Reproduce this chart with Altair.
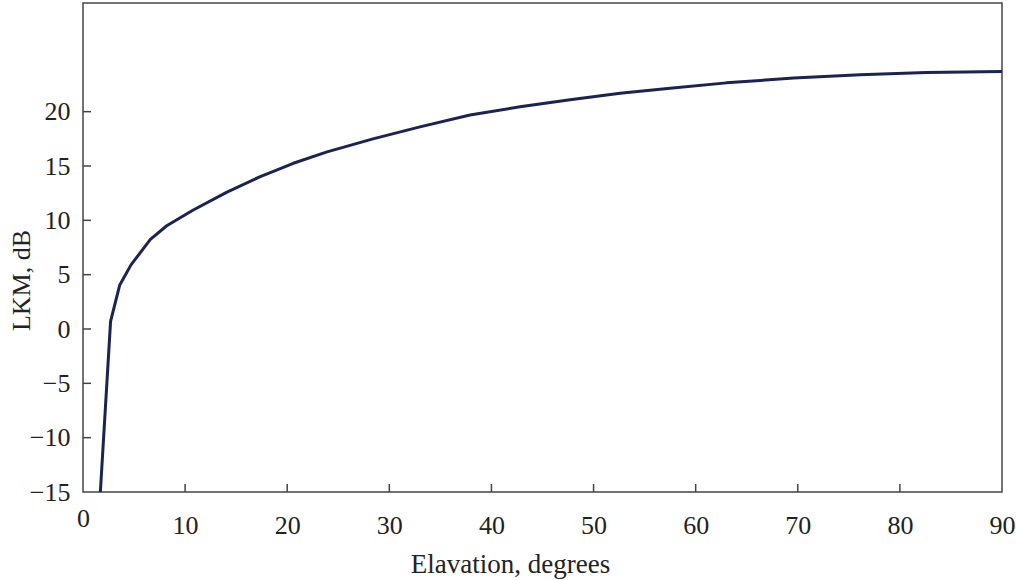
import altair as alt
import pandas as pd

elevation = [1.7, 2.7, 3.6, 4.7, 6.6, 8.2, 10.8, 14.1, 17.3, 20.6, 23.9, 28.4,
             33.0, 37.9, 42.8, 47.7, 52.6, 57.5, 63.0, 69.6, 76.1, 82.6, 90.0]
lkm = [-15.0, 0.7, 4.05, 5.9, 8.25, 9.5, 10.95, 12.6, 14.0, 15.25, 16.3, 17.5,
       18.6, 19.7, 20.45, 21.1, 21.7, 22.15, 22.65, 23.1, 23.4, 23.6, 23.7]
x_ticks = [0, 10, 20, 30, 40, 50, 60, 70, 80, 90]
y_ticks = [-15, -10, -5, 0, 5, 10, 15, 20]

W, H = 919, 489
FONT = "Liberation Serif"

df = pd.DataFrame({"elev": elevation, "lkm": lkm})
xt = pd.DataFrame({"v": x_ticks[1:-1]})
yt = pd.DataFrame({"v": y_ticks[1:]})

xscale = alt.Scale(domain=[0, 90], nice=False, zero=False)
yscale = alt.Scale(domain=[-15, 30], nice=False, zero=False)

line = alt.Chart(df).mark_line(color="#1b2352", strokeWidth=3, clip=True,
                               strokeJoin="round").encode(
    x=alt.X("elev:Q", scale=xscale,
            axis=alt.Axis(values=x_ticks, title="Elavation, degrees", format="d",
                          domain=False, ticks=False, tickSize=0, grid=False,
                          labelFlush=False, labelOverlap=False,
                          labelFont=FONT, labelFontSize=26, labelColor="#222",
                          labelPadding={"condition": {"test": "datum.value == 0", "value": 13}, "value": 20},
                          titleFont=FONT, titleFontSize=27, titleFontWeight="normal",
                          titleColor="#222", titleX=427, titleY=80,
                          titleBaseline="alphabetic", titleAlign="center")),
    y=alt.Y("lkm:Q", scale=yscale,
            axis=alt.Axis(values=y_ticks, title="LKM, dB", format="d",
                          domain=False, ticks=False, tickSize=0, grid=False,
                          labelFlush=False, labelOverlap=False,
                          labelFont=FONT, labelFontSize=26, labelColor="#222",
                          labelPadding=13, labelBaseline="middle",
                          titleFont=FONT, titleFontSize=26, titleFontWeight="normal",
                          titleColor="#222", titleX=-62, titleY=277,
                          titleAngle=-90, titleAlign="center", titleBaseline="middle")),
)

xticks = alt.Chart(xt).mark_rule(color="#444", strokeWidth=1.5).encode(
    x=alt.X("v:Q", scale=xscale), y=alt.value(H), y2=alt.value(H - 8))
yticks = alt.Chart(yt).mark_rule(color="#444", strokeWidth=1.5).encode(
    y=alt.Y("v:Q", scale=yscale), x=alt.value(0), x2=alt.value(8))

chart = alt.layer(line, xticks, yticks).properties(
    width=W, height=H,
    autosize=alt.AutoSizeParams(type="none"),
    padding={"left": 83, "top": 3, "right": 14, "bottom": 89},
    background="white",
).configure_view(stroke="#444", strokeWidth=1.5)

chart.save("out.html", embed_options={"renderer": "svg", "actions": False})
